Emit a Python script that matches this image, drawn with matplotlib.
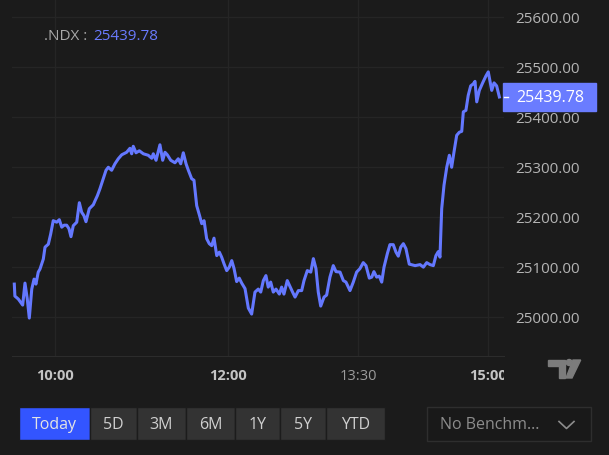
import matplotlib.pyplot as plt
from matplotlib.patches import Rectangle, Ellipse, Polygon
from matplotlib.lines import Line2D
from matplotlib.transforms import Bbox

plt.rcParams['font.family'] = ['Open Sans', 'DejaVu Sans']

# --- data (minutes after 9:30 open, index level) ---
symbol = ".NDX"
last_price = 25439.78
minutes = [1.6, 2.0, 4.4, 7.4, 9.0, 10.6, 12.0, 13.7, 15.3, 16.6, 18.2, 19.4, 21.7, 22.9, 25.2,
           26.8, 28.6, 31.0, 32.8, 34.5, 36.1, 37.9, 39.5, 40.9, 42.5, 44.9, 46.7, 48.3, 49.9,
           51.3, 53.6, 56.4, 57.6, 59.2, 61.0, 63.3, 65.2, 66.8, 69.1, 71.4, 73.7, 76.1, 79.5,
           81.8, 83.0, 84.1, 86.0, 88.3, 91.1, 94.5, 96.9, 98.0, 99.9, 102.6, 104.5, 106.1,
           107.7, 110.1, 113.0, 115.3, 117.0, 118.8, 120.7, 122.3, 124.6, 126.2, 128.1, 129.9,
           131.6, 133.2, 135.0, 136.8, 138.5, 140.1, 142.0, 143.8, 145.4, 147.0, 148.9, 150.7,
           152.4, 154.0, 155.8, 157.6, 159.3, 161.6, 163.9, 166.2, 168.5, 170.8, 172.5, 174.3,
           176.1, 177.7, 179.4, 181.2, 183.1, 185.4, 187.0, 188.6, 190.9, 192.8, 194.6, 196.3,
           198.6, 200.9, 202.5, 204.8, 207.2, 209.0, 210.8, 212.4, 214.1, 216.4, 218.2, 220.5,
           222.8, 224.7, 227.5, 229.8, 231.6, 234.4, 236.7, 239.0, 241.3, 243.6, 245.5, 247.8,
           249.5, 251.0, 252.9, 254.7, 256.4, 258.0, 260.3, 262.1, 264.4, 266.3, 267.9, 269.6,
           271.4, 273.2, 275.5, 279.6, 283.0, 285.3, 287.6, 289.9, 292.2, 294.0, 295.6, 296.8,
           298.0, 299.6, 301.5, 303.3, 304.9, 306.5, 308.4, 310.2, 311.9, 313.0, 314.8, 316.4,
           318.1, 319.9, 321.1, 322.3, 324.1, 326.4, 328.7, 330.3, 332.7, 334.3, 336.1, 338.0]
prices = [25065, 25041, 25035, 25023, 25067, 25035, 24997, 25055, 25075, 25065, 25089, 25095,
          25115, 25139, 25145, 25165, 25192, 25189, 25194, 25179, 25183, 25183, 25176, 25160,
          25182, 25189, 25228, 25209, 25202, 25190, 25216, 25224, 25232, 25242, 25256, 25276,
          25293, 25299, 25293, 25306, 25316, 25324, 25329, 25337, 25326, 25341, 25328, 25332,
          25326, 25323, 25317, 25326, 25313, 25344, 25313, 25329, 25324, 25313, 25308, 25316,
          25306, 25328, 25306, 25293, 25276, 25273, 25222, 25204, 25186, 25192, 25156, 25146,
          25142, 25157, 25122, 25129, 25119, 25106, 25092, 25099, 25112, 25096, 25070, 25077,
          25067, 25056, 25017, 25005, 25049, 25055, 25049, 25072, 25082, 25059, 25069, 25049,
          25055, 25045, 25059, 25045, 25072, 25060, 25049, 25039, 25052, 25052, 25072, 25092,
          25089, 25116, 25096, 25049, 25021, 25039, 25043, 25079, 25102, 25090, 25089, 25072,
          25069, 25052, 25069, 25089, 25096, 25108, 25102, 25077, 25079, 25090, 25079, 25081,
          25069, 25099, 25126, 25144, 25144, 25129, 25121, 25139, 25146, 25136, 25105, 25102,
          25104, 25099, 25108, 25104, 25102, 25122, 25130, 25119, 25216, 25263, 25299, 25323,
          25299, 25329, 25363, 25369, 25371, 25410, 25413, 25443, 25462, 25466, 25471, 25430,
          25453, 25468, 25482, 25490, 25453, 25468, 25462, 25439.78]

tick_minutes = [30, 150, 240, 330]
tick_labels = ["10:00", "12:00", "13:30", "15:00"]
tick_bold = [True, True, False, True]
price_ticks = [25000, 25100, 25200, 25300, 25400, 25500, 25600]
ranges = ["Today", "5D", "3M", "6M", "1Y", "5Y", "YTD"]
benchmark = "No Benchm..."

# --- layout / style ---
W, H = 609, 456
BG = "#1b1b1b"
LINE = "#6478ff"
GRID = "#252525"
TXT = "#b4b4b4"


def fx(px):
    return px / W


def fy(py):
    return 1 - py / H


fig = plt.figure(figsize=(W / 100, H / 100), dpi=100, facecolor=BG)
ax = fig.add_axes([fx(12), fy(357), fx(503.7) - fx(12), fy(0) - fy(357)])
ax.set_facecolor(BG)
ax.plot(minutes, prices, color=LINE, lw=2.2, solid_joinstyle='round', zorder=3)
ax.set_xlim(0, 341)
ax.set_ylim(24921, 25636)

ax.yaxis.tick_right()
ax.set_yticks(price_ticks, [f"{p:.2f}" for p in price_ticks])
ax.tick_params(axis='y', length=0, pad=8, labelsize=11, labelcolor=TXT)
ax.set_xticks(tick_minutes, tick_labels)
ax.tick_params(axis='x', length=0, pad=9, labelsize=10.5)
clip = Bbox.from_extents(0, 0, 503.7, H)
for lbl, bold in zip(ax.get_xticklabels(), tick_bold):
    lbl.set_fontweight('bold' if bold else 'normal')
    lbl.set_color('#c4c4c4' if bold else '#9c9c9c')
    lbl.set_clip_box(clip)
    lbl.set_clip_on(True)

ax.grid(color=GRID, lw=1)
for side in ['top', 'left', 'right']:
    ax.spines[side].set_visible(False)
ax.spines['bottom'].set_color('#2c2c2c')

# header label
fig.text(fx(44), fy(37), symbol + " :", color='#a8a8a8', size=11, va='center')
fig.text(fx(93), fy(37), f"{last_price:.2f}", color='#6a7bff', size=11, va='center')

# last price tag
y_tag = ax.transData.transform((0, last_price))[1] / H
fig.add_artist(Rectangle((fx(503), y_tag - 14 / H), 93 / W, 28 / H,
                         transform=fig.transFigure, color='#6a7cff', zorder=10))
fig.add_artist(Line2D([fx(504), fx(508)], [y_tag, y_tag], transform=fig.transFigure,
                      color='white', lw=1, zorder=11))
fig.text(fx(516), y_tag, f"{last_price:.2f}", color='white', size=11.5,
         va='center', ha='left', zorder=12)

# range buttons
edges = [19, 90, 137, 186, 235, 280, 326, 385]
for i, name in enumerate(ranges):
    x0, x1 = edges[i], edges[i + 1]
    fc = '#3355ff' if i == 0 else '#333333'
    fig.add_artist(Rectangle((fx(x0), fy(441)), (x1 - x0) / W, 33 / H,
                             transform=fig.transFigure, fc=fc, ec='#1c1c1c', lw=1))
    fig.text(fx((x0 + x1) / 2), fy(425), name, color='#e4e4e4' if i == 0 else '#d0d0d0',
             size=11.5, ha='center', va='center')

# benchmark dropdown
fig.add_artist(Rectangle((fx(427), fy(442)), 164 / W, 34 / H, transform=fig.transFigure,
                         fc='#191919', ec='#2e2e2e', lw=1))
fig.text(fx(440), fy(425), benchmark, color='#8c8c8c', size=11.5, va='center')
fig.add_artist(Line2D([fx(559), fx(566.5), fx(574)], [fy(422.5), fy(429.5), fy(422.5)],
                      transform=fig.transFigure, color='#8c8c8c', lw=1.2))

# tradingview mark
LOGO = '#7c7c7c'
fig.add_artist(Polygon([(fx(548.3), fy(361)), (fx(565), fy(361)), (fx(565), fy(379)),
                        (fx(558.5), fy(379)), (fx(558.5), fy(366.5)), (fx(548.3), fy(366.5))],
                       closed=True, transform=fig.transFigure, color=LOGO))
fig.add_artist(Ellipse((fx(569.2), fy(363.5)), 6 / W, 6 / H, transform=fig.transFigure,
                       color=LOGO))
fig.add_artist(Polygon([(fx(573), fy(361)), (fx(580.7), fy(361)), (fx(572), fy(379)),
                        (fx(566), fy(379))], closed=True, transform=fig.transFigure, color=LOGO))

fig.savefig("out.png", dpi=100, facecolor=BG)
